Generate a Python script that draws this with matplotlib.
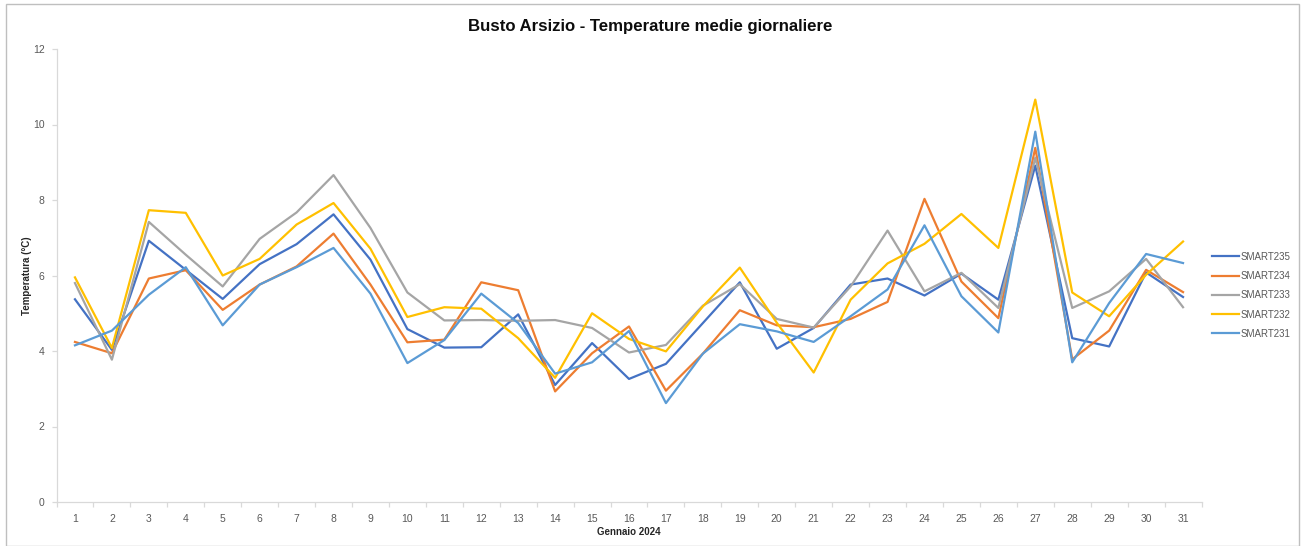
#!/usr/bin/env python3
"""
plot.py - Busto Arsizio, temperature medie giornaliere (gennaio 2024)
"""

import matplotlib
matplotlib.use('Agg')
import matplotlib.pyplot as plt
from matplotlib.patches import Rectangle
import numpy as np

days = list(range(1, 32))

smart235 = [5.37, 4.03, 6.92, 6.15, 5.38, 6.30, 6.83, 7.62, 6.42, 4.58,
            4.09, 4.10, 4.97, 3.10, 4.21, 3.26, 3.66, 4.74, 5.82, 4.06,
            4.61, 5.76, 5.92, 5.47, 6.05, 5.36, 8.91, 4.34, 4.12, 6.08, 5.43]
smart234 = [4.24, 3.94, 5.92, 6.14, 5.09, 5.76, 6.24, 7.11, 5.76, 4.23,
            4.30, 5.82, 5.61, 2.93, 3.94, 4.65, 2.95, 3.93, 5.08, 4.68,
            4.63, 4.85, 5.30, 8.03, 5.84, 4.87, 9.38, 3.78, 4.54, 6.15, 5.56]
smart233 = [5.80, 3.77, 7.42, 6.55, 5.71, 6.97, 7.67, 8.66, 7.26, 5.55,
            4.81, 4.82, 4.80, 4.82, 4.61, 3.96, 4.16, 5.20, 5.77, 4.85,
            4.62, 5.71, 7.19, 5.58, 6.07, 5.14, 9.12, 5.14, 5.58, 6.44, 5.16]
smart232 = [5.95, 4.08, 7.73, 7.66, 6.00, 6.44, 7.35, 7.92, 6.71, 4.90,
            5.16, 5.12, 4.34, 3.29, 5.00, 4.32, 3.99, 5.18, 6.21, 4.75,
            3.43, 5.36, 6.32, 6.84, 7.63, 6.73, 10.66, 5.55, 4.92, 6.02, 6.90]
smart231 = [4.15, 4.54, 5.49, 6.22, 4.68, 5.76, 6.22, 6.73, 5.52, 3.68,
            4.29, 5.52, 4.74, 3.40, 3.70, 4.53, 2.62, 3.93, 4.71, 4.52,
            4.24, 4.92, 5.63, 7.33, 5.45, 4.49, 9.81, 3.70, 5.27, 6.57, 6.33]

series = [
    ('SMART235', smart235, '#4472C4'),
    ('SMART234', smart234, '#ED7D31'),
    ('SMART233', smart233, '#A5A5A5'),
    ('SMART232', smart232, '#FFC000'),
    ('SMART231', smart231, '#5B9BD5'),
]

W, H = 1301, 546
fig = plt.figure(figsize=(W / 100, H / 100), dpi=100)
ax = fig.add_axes([56.5 / W, (H - 502) / H, 1145 / W, 453 / H])

for name, vals, color in series:
    ax.plot(days, vals, color=color, linewidth=1.6, label=name)

ax.set_xlim(0.5, 31.5)
ax.set_ylim(0, 12)
ax.set_yticks(np.arange(0, 13, 2))
ax.set_xticks(days)
ax.set_xticks(np.arange(0.5, 32, 1), minor=True)

tick_color = '#595959'
axis_color = '#D9D9D9'
for side in ['top', 'right']:
    ax.spines[side].set_visible(False)
for side in ['left', 'bottom']:
    ax.spines[side].set_color(axis_color)
    ax.spines[side].set_linewidth(0.9)

ax.tick_params(axis='x', which='major', length=0, pad=9,
               labelsize=7.5, labelcolor=tick_color)
ax.tick_params(axis='x', which='minor', length=3.5, color=axis_color, width=0.9)
ax.tick_params(axis='y', length=3.5, color=axis_color, width=0.9, pad=5,
               labelsize=7.5, labelcolor=tick_color)
for lab in ax.get_xticklabels() + ax.get_yticklabels():
    lab.set_family('Liberation Sans')

ax.set_xlabel('Gennaio 2024', fontsize=7, fontweight='bold', family='Liberation Sans',
              color='#262626', labelpad=2)
ax.set_ylabel('Temperatura (°C)', fontsize=7, fontweight='bold', family='Liberation Sans',
              color='#262626', labelpad=0.5)

fig.text(0.5, 1 - 26 / H, 'Busto Arsizio - Temperature medie giornaliere',
         ha='center', va='center', fontsize=12.1, fontweight='bold',
         family='Liberation Sans', color='#0D0D0D')

leg = ax.legend(loc='upper left', bbox_to_anchor=(1208 / W, 1 - 248 / H),
                bbox_transform=fig.transFigure, frameon=False,
                prop={'family': 'Liberation Sans', 'size': 7},
                handlelength=2.8, handletextpad=0.1, labelspacing=0.95,
                borderaxespad=0)
for t in leg.get_texts():
    t.set_color(tick_color)

fig.patches.append(Rectangle((5.5 / W, 0.5 / H), (W - 8) / W, (H - 4) / H,
                             transform=fig.transFigure, fill=False,
                             edgecolor='#BFBFBF', linewidth=1.0))

fig.savefig('out.png', dpi=100)
